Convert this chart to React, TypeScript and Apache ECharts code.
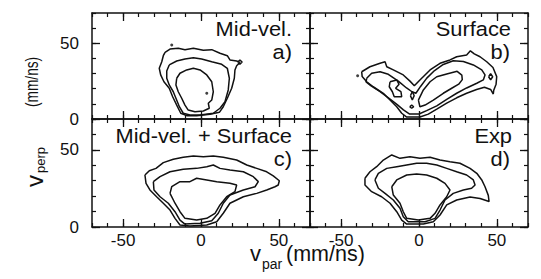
import React, { useEffect, useRef } from "react";
import * as echarts from "echarts";

// ---------- data ----------
const xTickCats = ["-70", "-60", "-50", "-40", "-30", "-20", "-10", "0", "10", "20", "30", "40", "50", "60", "70"];
const yTickCats = ["0", "10", "20", "30", "40", "50", "60", "70"];
const xMajor = ["-50", "0", "50"];
const yMajor = ["0", "50"];

const panelTitles = ["Mid-vel.", "Surface", "Mid-vel. + Surface", "Exp"];
const panelTags = ["a)", "b)", "c)", "d)"];

// Panel a (Mid-vel.)
const aOuter: number[][] = [
  [-23.1, 44.0], [-19.9, 46.2], [-14.6, 46.7], [-10.3, 45.8], [-4.9, 46.7], [1.5, 45.4], [6.9, 45.8],
  [12.2, 43.4], [16.9, 41.8], [18.6, 39.0], [22.9, 38.3], [25.0, 37.4], [22.9, 35.2], [21.8, 32.4],
  [21.4, 26.9], [19.7, 20.3], [16.9, 13.7], [14.3, 8.1], [11.8, 4.4], [5.8, 3.1], [-2.8, 2.2],
  [-9.2, 2.2], [-13.0, 3.8], [-15.6, 9.2], [-18.2, 14.7], [-20.4, 20.3], [-23.8, 24.6], [-25.9, 29.1],
  [-26.8, 33.5], [-25.2, 37.8], [-24.2, 41.8],
];
const aMiddle: number[][] = [
  [-20.4, 35.7], [-15.6, 38.3], [-10.3, 39.6], [-4.9, 40.5], [0.4, 39.6], [6.9, 37.8], [13.3, 36.1],
  [16.9, 33.5], [18.2, 26.9], [17.5, 19.2], [15.4, 11.4], [12.2, 7.1], [7.9, 3.8], [-0.6, 2.6],
  [-7.1, 2.6], [-11.4, 3.8], [-13.9, 8.1], [-16.1, 13.7], [-17.8, 18.0], [-20.4, 22.5], [-22.0, 26.9],
  [-22.0, 31.7],
];
const aInner: number[][] = [
  [-15.6, 26.9], [-13.5, 30.2], [-9.2, 32.4], [-4.9, 33.5], [-0.6, 32.4], [3.7, 29.1], [6.9, 24.6],
  [7.9, 18.0], [6.9, 12.5], [4.7, 10.4], [5.3, 7.1], [1.5, 5.3], [-3.9, 4.8], [-8.2, 5.9],
  [-10.3, 9.2], [-12.4, 13.7], [-14.6, 18.0], [-16.1, 22.5],
];
const aLoop: number[][] = [[23.6, 37.6], [25.0, 39.0], [26.4, 37.6], [25.0, 36.2]];
const aDots: number[][] = [[3.7, 17.0], [-18.8, 48.9]];

// Panel b (Surface)
const bOuter: number[][] = [
  [-36.8, 31.2], [-31.5, 34.5], [-25.0, 36.8], [-21.8, 37.8], [-20.7, 34.5], [-16.5, 32.4], [-10.1, 29.1],
  [-5.8, 25.0], [-3.0, 22.0], [0.6, 25.8], [7.1, 32.4], [13.5, 36.8], [19.9, 39.0], [24.2, 41.1],
  [30.6, 42.3], [33.0, 45.0], [35.5, 43.0], [39.2, 41.1], [43.5, 37.8], [47.5, 34.0], [49.9, 28.0],
  [49.5, 23.0], [48.0, 19.0], [47.7, 16.5], [46.0, 19.5], [42.0, 21.0], [37.0, 19.5], [30.6, 17.0],
  [24.2, 14.0], [17.8, 10.5], [11.4, 6.5], [6.0, 3.2], [0.6, 1.3], [-7.9, 1.3], [-11.1, 3.8],
  [-14.3, 8.1], [-18.6, 12.5], [-22.9, 17.0], [-29.4, 21.3], [-33.6, 24.6], [-36.5, 28.0],
];
const bMiddle: number[][] = [
  [-33.6, 26.9], [-30.4, 30.2], [-25.0, 31.2], [-19.7, 29.5], [-13.3, 25.0], [-8.0, 20.5], [-4.5, 18.0],
  [-2.0, 17.0], [1.0, 21.5], [5.0, 27.0], [10.0, 32.0], [15.6, 36.0], [22.0, 38.5], [28.5, 38.0],
  [34.9, 35.7], [40.3, 32.4], [42.4, 29.1], [41.3, 25.8], [37.1, 23.6], [30.6, 20.5], [24.2, 17.0],
  [17.8, 13.0], [11.4, 8.7], [4.9, 5.5], [0.0, 3.3], [-6.0, 3.3], [-10.0, 6.0], [-14.0, 9.5],
  [-19.0, 13.5], [-25.0, 18.0], [-31.0, 22.0], [-34.0, 24.5],
];
const bInnerRight: number[][] = [
  [-0.4, 12.5], [2.8, 19.2], [7.1, 24.6], [11.4, 27.9], [17.8, 29.7], [24.5, 31.5], [27.5, 29.0],
  [27.8, 26.0], [25.5, 23.0], [21.0, 20.3], [15.6, 17.0], [9.2, 12.5], [3.9, 9.2], [0.6, 8.1],
];
const bInnerLeft: number[][] = [
  [-18.6, 24.6], [-14.3, 25.8], [-12.8, 22.9], [-15.0, 20.3], [-11.6, 18.0], [-11.1, 14.7],
  [-15.9, 14.7], [-17.1, 18.0], [-19.1, 21.3],
];
const bLoop1: number[][] = [[-5.5, 15.4], [-4.3, 18.2], [-3.1, 15.4], [-4.3, 12.6]];
const bLoop2: number[][] = [[-6.0, 8.1], [-4.7, 9.1], [-3.4, 8.1], [-4.7, 7.1]];
const bLoop3: number[][] = [[44.7, 27.9], [46.0, 30.0], [47.3, 27.9], [46.0, 25.8]];
const bDots: number[][] = [[-39.4, 28.6]];

// Panel c (Mid-vel. + Surface)
const cOuter: number[][] = [
  [-36.0, 33.7], [-33.2, 36.5], [-28.9, 38.0], [-24.2, 41.7], [-17.8, 43.9], [-11.4, 45.2], [-4.9, 46.0],
  [1.5, 45.6], [7.9, 46.0], [14.3, 45.2], [22.9, 43.4], [29.4, 40.2], [35.8, 38.0], [42.2, 35.8],
  [46.4, 33.1], [50.3, 30.0], [49.6, 27.2], [47.5, 26.1], [42.2, 24.0], [35.8, 21.8], [27.2, 19.6],
  [18.6, 15.4], [14.3, 8.9], [10.1, 3.4], [3.7, 1.3], [-7.1, 0.6], [-13.5, 1.3], [-16.7, 5.6],
  [-19.9, 11.0], [-24.2, 15.4], [-28.5, 19.6], [-32.8, 24.0], [-35.3, 28.3],
];
const cMiddle: number[][] = [
  [-30.6, 29.4], [-26.3, 32.6], [-19.9, 35.8], [-11.4, 37.4], [-2.8, 38.0], [3.7, 39.1], [7.9, 40.2],
  [12.2, 38.0], [18.6, 36.9], [27.2, 35.8], [33.6, 32.6], [36.8, 29.4], [34.7, 26.1], [27.2, 24.0],
  [18.6, 20.7], [14.3, 15.4], [11.1, 8.9], [6.9, 4.1], [-0.6, 2.4], [-10.3, 1.9], [-13.5, 4.5],
  [-16.7, 9.9], [-21.0, 15.4], [-26.3, 19.6], [-30.2, 24.0],
];
const cInner: number[][] = [
  [-19.9, 21.8], [-18.8, 26.1], [-13.5, 29.4], [-7.1, 29.4], [-2.8, 31.6], [3.7, 30.5], [10.1, 29.4],
  [18.6, 28.3], [22.9, 27.2], [21.8, 22.9], [16.5, 19.6], [12.2, 14.3], [9.0, 8.9], [3.7, 5.6],
  [-2.8, 4.5], [-10.3, 5.6], [-13.5, 9.9], [-16.7, 15.4],
];

// Panel d (Exp)
const dOuter: number[][] = [
  [-34.7, 31.6], [-31.5, 35.8], [-27.2, 39.1], [-22.9, 43.4], [-17.5, 46.7], [-12.2, 44.5], [-5.8, 45.6],
  [0.6, 44.5], [7.1, 45.2], [13.5, 43.4], [19.9, 42.3], [26.3, 41.3], [32.8, 38.0], [37.1, 34.8],
  [40.3, 30.5], [42.4, 26.1], [44.5, 20.5], [45.0, 16.5], [39.2, 18.5], [32.8, 19.5], [24.2, 17.5],
  [17.8, 14.3], [13.5, 7.8], [9.2, 3.4], [2.8, 1.9], [-7.9, 1.9], [-11.1, 4.5], [-14.3, 9.9],
  [-18.6, 15.4], [-24.0, 19.6], [-30.4, 22.9], [-34.7, 27.2],
];
const dMiddle: number[][] = [
  [-28.3, 30.5], [-26.1, 34.8], [-20.7, 38.0], [-14.3, 39.1], [-7.9, 40.2], [-1.5, 41.3], [4.9, 41.3],
  [11.4, 40.2], [17.8, 38.0], [24.2, 35.8], [30.6, 33.7], [34.9, 30.5], [36.0, 27.2], [33.8, 25.1],
  [28.5, 24.0], [22.0, 21.8], [16.7, 17.5], [13.5, 11.0], [10.3, 5.6], [3.9, 3.4], [-6.9, 3.4],
  [-10.1, 6.7], [-12.2, 12.1], [-16.5, 17.5], [-21.8, 21.8], [-26.1, 25.1],
];
const dInner: number[][] = [
  [-17.5, 26.1], [-14.3, 30.5], [-7.9, 33.7], [-1.5, 34.3], [4.9, 33.7], [11.4, 31.6], [16.7, 28.3],
  [19.9, 24.0], [17.8, 19.6], [13.5, 14.3], [10.3, 8.9], [7.1, 5.6], [-0.4, 4.5], [-7.9, 5.6],
  [-10.1, 9.9], [-12.2, 15.4], [-16.5, 20.7],
];

const panelContours: number[][][][] = [
  [aOuter, aMiddle, aInner, aLoop],
  [bOuter, bMiddle, bInnerRight, bInnerLeft, bLoop1, bLoop2, bLoop3],
  [cOuter, cMiddle, cInner],
  [dOuter, dMiddle, dInner],
];
const panelDots: number[][][] = [aDots, bDots, [], []];

// ---------- layout ----------
const FONT = "'Liberation Sans', Arial, Helvetica, sans-serif";
const INK = "#111";
const grids = [
  { left: 92, top: 13, width: 218, height: 106, xLabels: false, yLabels: true },
  { left: 310, top: 13, width: 218, height: 106, xLabels: false, yLabels: false },
  { left: 92, top: 119, width: 218, height: 108, xLabels: true, yLabels: true },
  { left: 310, top: 119, width: 218, height: 108, xLabels: true, yLabels: false },
];

function valueAxis(dim: "x" | "y", gi: number, position: string) {
  const range = dim === "x" ? { min: -70, max: 70, interval: 10 } : { min: 0, max: 70, interval: 10 };
  return {
    type: "value",
    gridIndex: gi,
    position,
    ...range,
    axisLine: { show: true, onZero: false, lineStyle: { color: INK, width: 1.5 } },
    axisTick: { show: true, inside: true, length: 4, lineStyle: { color: INK, width: 1.2 } },
    axisLabel: { show: false },
    splitLine: { show: false },
  };
}

function catAxis(dim: "x" | "y", gi: number, position: string, showLabels: boolean) {
  const cats = dim === "x" ? xTickCats : yTickCats;
  const major = dim === "x" ? xMajor : yMajor;
  return {
    type: "category",
    gridIndex: gi,
    position,
    data: cats,
    boundaryGap: false,
    axisLine: { show: false, onZero: false },
    axisTick: {
      show: true,
      inside: true,
      length: 8,
      interval: (_i: number, v: string) => major.indexOf(v) >= 0,
      lineStyle: { color: INK, width: 1.3 },
    },
    axisLabel: {
      show: showLabels,
      interval: (_i: number, v: string) => major.indexOf(v) >= 0,
      fontSize: 17,
      fontFamily: FONT,
      color: INK,
      margin: dim === "x" ? 5 : 13,
    },
    splitLine: { show: false },
  };
}

function txt(text: string, x: number, y: number, size: number, align: string, extra: any = {}) {
  return {
    type: "text",
    x,
    y,
    silent: true,
    ...extra,
    style: { text, fill: INK, fontSize: size, fontFamily: FONT, align, verticalAlign: "middle" },
  };
}

export default function App() {
  const ref = useRef<HTMLDivElement>(null);
  useEffect(() => {
    if (!ref.current) return;
    const chart = echarts.init(ref.current, null, { renderer: "svg" });

    const xAxis: any[] = [];
    const yAxis: any[] = [];
    grids.forEach((g, gi) => {
      xAxis.push(valueAxis("x", gi, "bottom"), valueAxis("x", gi, "top"), catAxis("x", gi, "bottom", g.xLabels), catAxis("x", gi, "top", false));
      yAxis.push(valueAxis("y", gi, "left"), valueAxis("y", gi, "right"), catAxis("y", gi, "left", g.yLabels), catAxis("y", gi, "right", false));
    });

    const series: any[] = [];
    panelContours.forEach((list, gi) => {
      list.forEach((pts) => {
        series.push({
          type: "line",
          xAxisIndex: gi * 4,
          yAxisIndex: gi * 4,
          data: [...pts, pts[0]],
          showSymbol: false,
          symbol: "none",
          silent: true,
          lineStyle: { color: INK, width: 1.5 },
        });
      });
      if (panelDots[gi].length) {
        series.push({
          type: "scatter",
          xAxisIndex: gi * 4,
          yAxisIndex: gi * 4,
          data: panelDots[gi],
          symbolSize: 3,
          silent: true,
          itemStyle: { color: INK },
        });
      }
    });

    const labelRight = [292, 511, 292, 512];
    const tagRight = [292, 510, 292, 510];
    const row1 = [28.5, 28.5, 136, 136];
    const row2 = [52, 52, 159, 159];
    const graphic: any[] = [];
    grids.forEach((_g, gi) => {
      graphic.push(txt(panelTitles[gi], labelRight[gi], row1[gi], 19.5, "right", { scaleX: 1.12 }));
      graphic.push(txt(panelTags[gi], tagRight[gi], row2[gi], 19.5, "right", { scaleX: 1.12 }));
    });
    // x-axis title: v_par (mm/ns)
    graphic.push(txt("v", 250, 253.5, 22, "left"));
    graphic.push(txt("par", 262, 264, 14, "left"));
    graphic.push(txt("(mm/ns)", 286, 254, 21.5, "left"));
    // y-axis title: v_perp (mm/ns), rotated
    graphic.push(txt("v", 34.7, 187, 24, "left", { rotation: Math.PI / 2 }));
    graphic.push(txt("perp", 40.8, 173, 13, "left", { rotation: Math.PI / 2 }));
    graphic.push(txt("(mm/ns)", 31.4, 107, 19, "left", { rotation: Math.PI / 2, scaleX: 0.72 }));

    chart.setOption({
      animation: false,
      backgroundColor: "#fff",
      textStyle: { fontFamily: FONT },
      grid: grids.map((g) => ({ left: g.left, top: g.top, width: g.width, height: g.height, containLabel: false, outerBoundsMode: "none" })),
      xAxis,
      yAxis,
      series,
      graphic,
    });
    return () => chart.dispose();
  }, []);
  return <div ref={ref} style={{ position: "fixed", left: 0, top: 0, width: 541, height: 279 }} />;
}
